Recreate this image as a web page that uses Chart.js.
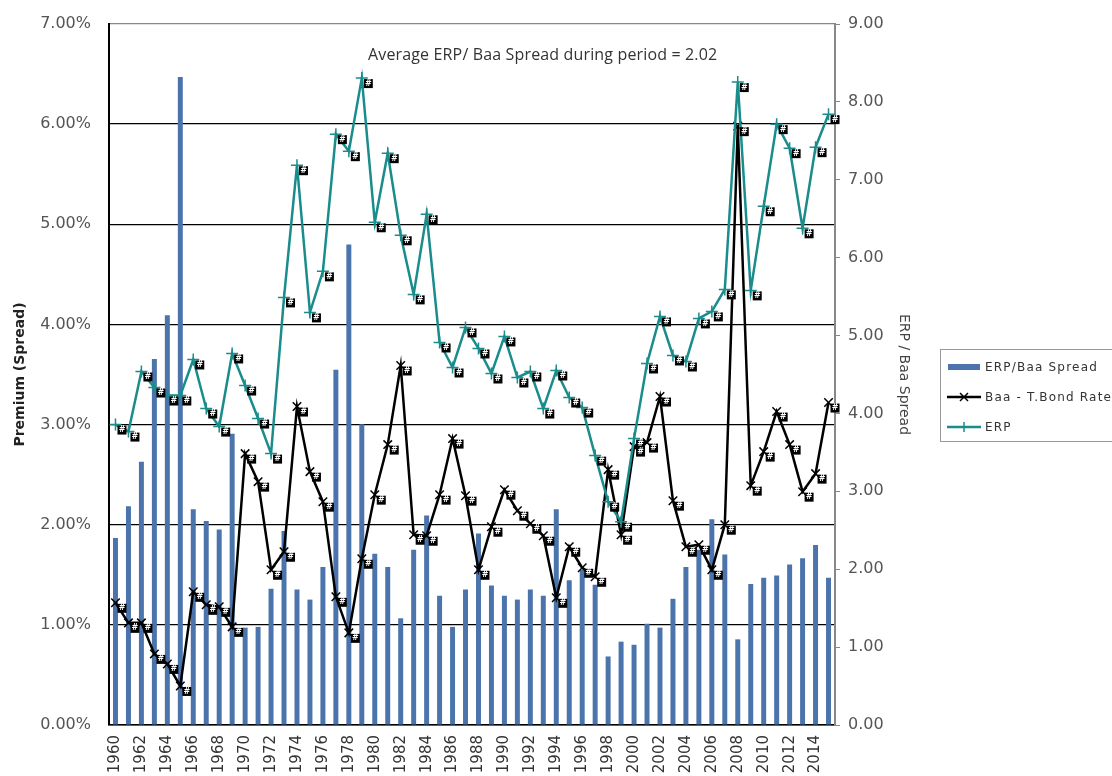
<!DOCTYPE html>
<html>
<head>
<meta charset="utf-8">
<script src="https://cdn.jsdelivr.net/npm/chart.js@4.4.1/dist/chart.umd.min.js"></script>
<style>
    html, body { margin: 0; padding: 0; background: #fff; overflow: hidden; }
    .wrap { position: relative; width: 1112px; height: 776px; }
    #erpChart { position: absolute; left: 0; top: 0; }
    .note { position: absolute; left: 368px; top: 43px; font: 16px "Open Sans", sans-serif; letter-spacing: 0.15px; color: #333; white-space: nowrap; }
    .legend { position: absolute; left: 940px; top: 349px; width: 200px; height: 93px; border: 1px solid #999; box-sizing: border-box;
              font: 12px "DejaVu Sans", sans-serif; color: #333; letter-spacing: 1.2px; }
    .legend .item { position: absolute; left: 6px; height: 16px; display: flex; align-items: center; white-space: nowrap; }
    .legend svg { margin-right: 4px; }
</style>
</head>
<body>
<div class="wrap">
    <canvas id="erpChart" width="1112" height="776"></canvas>
    <div class="note">Average ERP/ Baa Spread during period = 2.02</div>
    <div class="legend">
        <div class="item" style="top:9px">
            <svg width="34" height="12"><rect x="1" y="3" width="32" height="6" fill="#4a74ab"/></svg>ERP/Baa Spread
        </div>
        <div class="item" style="top:39px">
            <svg width="34" height="12"><line x1="0" y1="6" x2="34" y2="6" stroke="#000" stroke-width="2.5"/><path d="M13 2 L21 10 M21 2 L13 10" stroke="#000" stroke-width="1.5"/></svg>Baa - T.Bond Rate
        </div>
        <div class="item" style="top:69px">
            <svg width="34" height="12"><line x1="0" y1="6" x2="34" y2="6" stroke="#1a8c8c" stroke-width="2.5"/><path d="M17 1 L17 11" stroke="#1a8c8c" stroke-width="1.5"/></svg>ERP
        </div>
    </div>
</div>
<script>
// ==================================================
// 1. DADOS
// ==================================================
const years = [
    '1960', '1961', '1962', '1963', '1964', '1965', '1966', '1967', '1968', '1969',
    '1970', '1971', '1972', '1973', '1974', '1975', '1976', '1977', '1978', '1979',
    '1980', '1981', '1982', '1983', '1984', '1985', '1986', '1987', '1988', '1989',
    '1990', '1991', '1992', '1993', '1994', '1995', '1996', '1997', '1998', '1999',
    '2000', '2001', '2002', '2003', '2004', '2005', '2006', '2007', '2008', '2009',
    '2010', '2011', '2012', '2013', '2014', '2015'
];

// ERP (% - eixo esquerdo)
const erp = [
    3.00, 2.93, 3.53, 3.37, 3.29, 3.29, 3.65, 3.16, 2.98, 3.71,
    3.39, 3.06, 2.71, 4.27, 5.59, 4.12, 4.53, 5.90, 5.73, 6.46,
    5.02, 5.71, 4.89, 4.30, 5.10, 3.82, 3.57, 3.97, 3.76, 3.51,
    3.88, 3.47, 3.53, 3.16, 3.54, 3.27, 3.17, 2.69, 2.23, 2.03,
    2.86, 3.61, 4.08, 3.69, 3.63, 4.06, 4.13, 4.35, 6.42, 4.34,
    5.18, 6.00, 5.76, 4.96, 5.77, 6.10
];

// Baa - T.Bond (% - eixo esquerdo)
const baaSpread = [
    1.22, 1.02, 1.02, 0.71, 0.61, 0.39, 1.33, 1.20, 1.18, 0.98,
    2.71, 2.43, 1.55, 1.73, 3.18, 2.53, 2.23, 1.28, 0.92, 1.66,
    2.30, 2.80, 3.59, 1.90, 1.89, 2.30, 2.86, 2.29, 1.55, 1.98,
    2.35, 2.14, 2.01, 1.89, 1.27, 1.78, 1.57, 1.48, 2.55, 1.90,
    2.78, 2.82, 3.28, 2.24, 1.78, 1.80, 1.55, 2.00, 5.98, 2.39,
    2.73, 3.13, 2.80, 2.33, 2.51, 3.22
];

// ERP / Baa Spread (eixo direito)
const erpToBaa = [
    2.40, 2.81, 3.38, 4.70, 5.26, 8.32, 2.77, 2.62, 2.51, 3.74,
    1.25, 1.26, 1.75, 2.49, 1.74, 1.61, 2.03, 4.56, 6.17, 3.86,
    2.20, 2.03, 1.37, 2.25, 2.69, 1.66, 1.26, 1.74, 2.46, 1.79,
    1.66, 1.61, 1.74, 1.66, 2.77, 1.86, 1.99, 1.80, 0.88, 1.07,
    1.03, 1.30, 1.25, 1.62, 2.03, 2.25, 2.64, 2.19, 1.10, 1.81,
    1.89, 1.92, 2.06, 2.14, 2.31, 1.89
];

const BLUE = '#4a74ab';
const TEAL = '#1a8c8c';
const FONT = 'DejaVu Sans';

// ==================================================
// 2. RÓTULOS "#" (estilo Excel com rótulo estourado)
// ==================================================
const hashLabels = {
    id: 'hashLabels',
    afterDatasetsDraw(chart) {
        const c = chart.ctx;
        chart.data.datasets.forEach((ds, i) => {
            if (ds.type !== 'line') return;
            chart.getDatasetMeta(i).data.forEach(pt => {
                c.save();
                c.fillStyle = '#000';
                c.fillRect(pt.x + 2, pt.y + 1, 9, 9);
                c.fillStyle = '#fff';
                c.font = 'bold 8px ' + FONT;
                c.textAlign = 'center';
                c.textBaseline = 'middle';
                c.fillText('#', pt.x + 6.5, pt.y + 5.5);
                c.restore();
            });
        });
    }
};

// ==================================================
// 3. GRÁFICO
// ==================================================
let erpChart;

function initErpChart() {
    const ctx = document.getElementById('erpChart');

    erpChart = new Chart(ctx, {
        type: 'bar',
        data: {
            labels: years,
            datasets: [{
                type: 'line',
                label: 'ERP',
                data: erp,
                yAxisID: 'y',
                borderColor: TEAL,
                borderWidth: 2.5,
                pointStyle: 'cross',
                pointRadius: 6,
                pointBorderWidth: 1.5,
                pointBorderColor: TEAL,
                pointBackgroundColor: TEAL,
                tension: 0,
                order: 1
            }, {
                type: 'line',
                label: 'Baa - T.Bond Rate',
                data: baaSpread,
                yAxisID: 'y',
                borderColor: '#000',
                borderWidth: 2.5,
                pointStyle: 'crossRot',
                pointRadius: 6,
                pointBorderWidth: 1.5,
                pointBorderColor: '#000',
                pointBackgroundColor: '#000',
                tension: 0,
                order: 2
            }, {
                type: 'bar',
                label: 'ERP/Baa Spread',
                data: erpToBaa,
                yAxisID: 'y1',
                backgroundColor: BLUE,
                categoryPercentage: 0.8,
                barPercentage: 0.48,
                order: 3
            }]
        },
        options: {
            responsive: false,
            animation: false,
            layout: {
                padding: { left: 8, top: 24, right: 196, bottom: 0 }
            },
            plugins: {
                legend: { display: false },
                tooltip: { enabled: false }
            },
            scales: {
                x: {
                    offset: true,
                    grid: { display: false, drawTicks: false },
                    border: { color: '#000', width: 1.5 },
                    ticks: {
                        autoSkip: false,
                        minRotation: 90,
                        maxRotation: 90,
                        padding: 10,
                        color: '#333',
                        font: { family: FONT, size: 15 },
                        callback: function(v, i) {
                            return i % 2 === 0 ? this.getLabelForValue(v) : '';
                        }
                    },
                    afterFit: s => { s.height = 51; }
                },
                y: {
                    position: 'left',
                    min: 0,
                    max: 7,
                    ticks: {
                        stepSize: 1,
                        padding: 4,
                        color: '#555',
                        font: { family: FONT, size: 16 },
                        callback: v => v.toFixed(2) + '%'
                    },
                    grid: {
                        drawTicks: true,
                        tickLength: 14,
                        tickColor: 'rgba(0,0,0,0)',
                        lineWidth: 1.3,
                        color: c => (c.tick && c.tick.value === 7) ? '#888' : '#000'
                    },
                    border: { color: '#000', width: 2 },
                    title: {
                        display: true,
                        text: 'Premium (Spread)',
                        color: '#222',
                        padding: 4,
                        font: { family: FONT, size: 14, weight: 'bold' }
                    },
                    afterFit: s => { s.width = 101; }
                },
                y1: {
                    position: 'right',
                    min: 0,
                    max: 9,
                    ticks: {
                        stepSize: 1,
                        padding: 8,
                        color: '#555',
                        font: { family: FONT, size: 16 },
                        callback: v => v.toFixed(2)
                    },
                    grid: { drawOnChartArea: false, tickLength: 5, color: '#888' },
                    border: { color: '#888', width: 2 },
                    title: {
                        display: true,
                        text: 'ERP / Baa Spread',
                        color: '#444',
                        padding: 4,
                        font: { family: FONT, size: 14 }
                    },
                    afterFit: s => { s.width = 81; }
                }
            }
        },
        plugins: [hashLabels]
    });
}

initErpChart();
</script>
</body>
</html>
